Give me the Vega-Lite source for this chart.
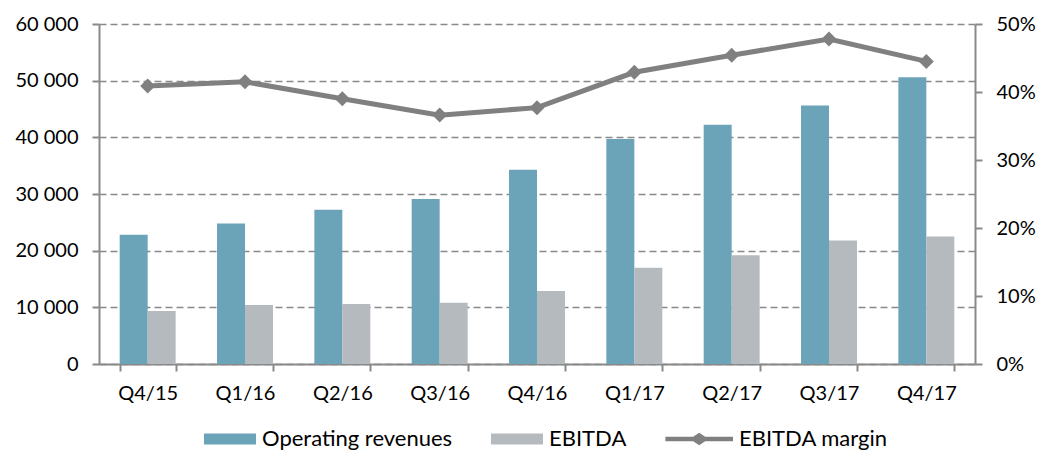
{
  "$schema": "https://vega.github.io/schema/vega-lite/v6.json",
  "width": 876,
  "height": 340,
  "autosize": "none",
  "padding": {"left": 99, "top": 24, "right": 63, "bottom": 86},
  "config": {
    "font": "Lato",
    "view": {"stroke": null},
    "axis": {
      "labelFont": "Lato",
      "labelFontSize": 20,
      "labelColor": "#000000",
      "domainColor": "#898989",
      "domainWidth": 2,
      "tickColor": "#898989",
      "tickWidth": 2,
      "tickSize": 7,
      "title": null
    }
  },
  "datasets": {
    "bars": [
      {"quarter": "Q4/15", "series": "Operating revenues", "value": 22800},
      {"quarter": "Q4/15", "series": "EBITDA", "value": 9350},
      {"quarter": "Q1/16", "series": "Operating revenues", "value": 24800},
      {"quarter": "Q1/16", "series": "EBITDA", "value": 10400},
      {"quarter": "Q2/16", "series": "Operating revenues", "value": 27200},
      {"quarter": "Q2/16", "series": "EBITDA", "value": 10600},
      {"quarter": "Q3/16", "series": "Operating revenues", "value": 29100},
      {"quarter": "Q3/16", "series": "EBITDA", "value": 10800},
      {"quarter": "Q4/16", "series": "Operating revenues", "value": 34300},
      {"quarter": "Q4/16", "series": "EBITDA", "value": 12900},
      {"quarter": "Q1/17", "series": "Operating revenues", "value": 39700},
      {"quarter": "Q1/17", "series": "EBITDA", "value": 17000},
      {"quarter": "Q2/17", "series": "Operating revenues", "value": 42200},
      {"quarter": "Q2/17", "series": "EBITDA", "value": 19200},
      {"quarter": "Q3/17", "series": "Operating revenues", "value": 45600},
      {"quarter": "Q3/17", "series": "EBITDA", "value": 21800},
      {"quarter": "Q4/17", "series": "Operating revenues", "value": 50600},
      {"quarter": "Q4/17", "series": "EBITDA", "value": 22500}
    ],
    "margin": [
      {"quarter": "Q4/15", "series": "EBITDA margin", "margin": 0.409},
      {"quarter": "Q1/16", "series": "EBITDA margin", "margin": 0.415},
      {"quarter": "Q2/16", "series": "EBITDA margin", "margin": 0.390},
      {"quarter": "Q3/16", "series": "EBITDA margin", "margin": 0.366},
      {"quarter": "Q4/16", "series": "EBITDA margin", "margin": 0.377},
      {"quarter": "Q1/17", "series": "EBITDA margin", "margin": 0.429},
      {"quarter": "Q2/17", "series": "EBITDA margin", "margin": 0.454},
      {"quarter": "Q3/17", "series": "EBITDA margin", "margin": 0.478},
      {"quarter": "Q4/17", "series": "EBITDA margin", "margin": 0.445}
    ]
  },
  "layer": [
    {
      "data": {"name": "bars"},
      "mark": {"type": "bar"},
      "encoding": {
        "x": {
          "field": "quarter",
          "type": "nominal",
          "sort": null,
          "scale": {"paddingInner": 0.425, "paddingOuter": 0.2125},
          "axis": {"tickBand": "extent", "labelAngle": 0, "labelPadding": 12, "title": null, "grid": false}
        },
        "xOffset": {"field": "series", "type": "nominal", "sort": ["Operating revenues", "EBITDA"]},
        "y": {
          "field": "value",
          "type": "quantitative",
          "scale": {"domain": [0, 60000]},
          "axis": {
            "values": [0, 10000, 20000, 30000, 40000, 50000, 60000],
            "grid": true,
            "gridDash": [7, 4],
            "gridColor": "#898989",
            "gridWidth": 1.5,
            "labelExpr": "replace(format(datum.value, ','), ',', ' ')",
            "title": null,
            "labelPadding": 14
          }
        },
        "color": {
          "field": "series",
          "type": "nominal",
          "scale": {
            "domain": ["Operating revenues", "EBITDA", "EBITDA margin"],
            "range": ["#6ba4b9", "#b5babe", "#808080"]
          },
          "legend": {
            "orient": "none",
            "legendX": 105,
            "legendY": 389,
            "direction": "horizontal",
            "title": null,
            "labelFont": "Lato",
            "labelFontSize": 22,
            "labelColor": "#000000",
            "labelLimit": 400,
            "columnPadding": 38,
            "symbolSize": 2704,
            "labelOffset": 6,
            "encode": {
              "symbols": {
                "update": {
                  "shape": {"signal": "datum.value === 'EBITDA margin' ? 'M-1.6,-0.09H-0.53L-0.3,-0.24L-0.07,-0.09H1V0.09H-0.07L-0.3,0.24L-0.53,0.09H-1.6Z' : 'M-1,-0.21H1V0.21H-1Z'"},
                  "fill": {"signal": "scale('color', datum.value)"},
                  "strokeWidth": {"value": 0},
                  "opacity": {"value": 1},
                  "fillOpacity": {"value": 1}
                }
              }
            }
          }
        }
      }
    },
    {
      "data": {"name": "margin"},
      "mark": {"type": "line", "strokeWidth": 5, "point": {"shape": "diamond", "size": 225, "filled": true, "opacity": 1}},
      "encoding": {
        "x": {"field": "quarter", "type": "nominal", "sort": null},
        "y": {
          "field": "margin",
          "type": "quantitative",
          "scale": {"domain": [0, 0.5]},
          "axis": {
            "orient": "right",
            "format": ".0%",
            "values": [0, 0.1, 0.2, 0.3, 0.4, 0.5],
            "grid": false,
            "title": null,
            "labelPadding": 14
          }
        },
        "color": {"field": "series", "type": "nominal"}
      }
    }
  ],
  "resolve": {"scale": {"y": "independent"}}
}
